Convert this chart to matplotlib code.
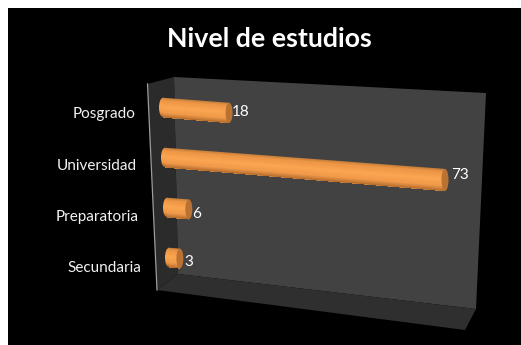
"""Nivel de estudios: fake 3D cylinder bar chart on a black background."""
import numpy as np
import matplotlib
matplotlib.use("Agg")
import matplotlib.pyplot as plt
from matplotlib.colors import to_rgb
from matplotlib.patches import Ellipse, Polygon, Rectangle
from matplotlib.transforms import Transform

plt.rcParams["font.family"] = ["Lato", "DejaVu Sans"]

categories = ["Secundaria", "Preparatoria", "Universidad", "Posgrado"]
values = [3, 6, 73, 18]
title = "Nivel de estudios"

W, H = 521, 345


def value_dx(v):
    # slight perspective along the value axis
    v = np.asarray(v, dtype=float)
    return 3.62 * v / (1 - 0.00077 * v)


class BarProjection(Transform):
    """Maps (value, category) onto the tilted plot wall, in pixels."""
    input_dims = 2
    output_dims = 2

    def transform_non_affine(self, pts):
        pts = np.asarray(pts, dtype=float)
        v, c = pts[:, 0], pts[:, 1]
        c0 = np.round(c)
        dx = value_dx(v)
        x = 169 - 2 * c0 + dx
        y = 257.5 - 50 * c0 + 0.08 * dx - 50 * (c - c0) * (1 + 0.00045 * dx)
        return np.column_stack([x, y])


fig = plt.figure(figsize=(W / 100, H / 100), dpi=100, facecolor="white")
ax = fig.add_axes([0, 0, 1, 1])
ax.set_xlim(0, W)
ax.set_ylim(H, 0)
ax.set_autoscale_on(False)
ax.axis("off")

# background and the box walls
ax.add_patch(Rectangle((8, 8), W - 8, H - 8, fc="black", ec="none"))
ax.add_patch(Polygon([(174, 77), (486, 93), (476, 309), (178, 274)], fc="#424242", ec="none"))
ax.add_patch(Polygon([(147.5, 84), (174, 77), (178, 274), (157, 290)], fc="#2b2b2b", ec="none"))
ax.add_patch(Polygon([(157, 290), (178, 274), (476, 309), (465, 330)], fc="#2f2f2f", ec="none"))
ax.plot([147.5, 157], [84, 290], color="#9c9c9c", lw=0.9)

to_px = BarProjection()
proj = to_px + ax.transData
stops = [0, 0.12, 0.45, 0.75, 0.92, 1]
stop_colors = np.array([to_rgb(c) for c in
                        ["#c98039", "#ec9646", "#fba651", "#f09a4a", "#c67a35", "#9a5a24"]])
n_strips = 24
thick = 0.39  # bar thickness in category units
shade = np.array([[np.interp(i / 49, stops, stop_colors[:, k]) for k in range(3)] for i in range(50)])
# value labels do not sit exactly on the bar axis in the original
label_dy = [4, 5, -5, -1]
label_dx = [4, 3, 6, 3]

for c, (name, val) in enumerate(zip(categories, values)):
    base = to_px.transform(np.array([[0.0, c]]))[0]
    tip = to_px.transform(np.array([[float(val), c]]))[0]
    t_base = 19.5
    t_tip = 19.5 * (1 + 0.00045 * float(value_dx(val)))

    # rounded far end with the same shading as the body
    cap = Ellipse(base, 8, t_base, fc="none", ec="none", zorder=3)
    ax.add_patch(cap)
    im = ax.imshow(shade[:, None, :], aspect="auto", zorder=3, interpolation="bilinear",
                   extent=(base[0] - 5, base[0] + 5, base[1] + t_base / 2, base[1] - t_base / 2))
    im.set_clip_path(cap)
    # each strip covers everything below it so no seams show on the slant
    for i in range(n_strips):
        f = i / n_strips
        col = [np.interp(f, stops, stop_colors[:, k]) for k in range(3)]
        ax.barh(c - thick / 2, val, height=thick * (1 - f), left=0, align="edge",
                color=col, linewidth=0, transform=proj, zorder=4)
    ax.add_patch(Ellipse(tip, 7, t_tip, fc="#b97232", ec="none", zorder=5))
    ax.text(tip[0] + label_dx[c], tip[1] + label_dy[c], str(val), color="white", fontsize=11,
            ha="left", va="center", zorder=6)
    # category labels follow the slightly slanted left edge
    ax.text(141 - 2 * c, 268.5 - 51.4 * c, name, color="#f2f2f2", fontsize=11,
            ha="right", va="center")

ax.text(269, 39, title, color="white", fontsize=19.3, fontweight="bold",
        ha="center", va="center")

fig.savefig("out.png", dpi=100)
